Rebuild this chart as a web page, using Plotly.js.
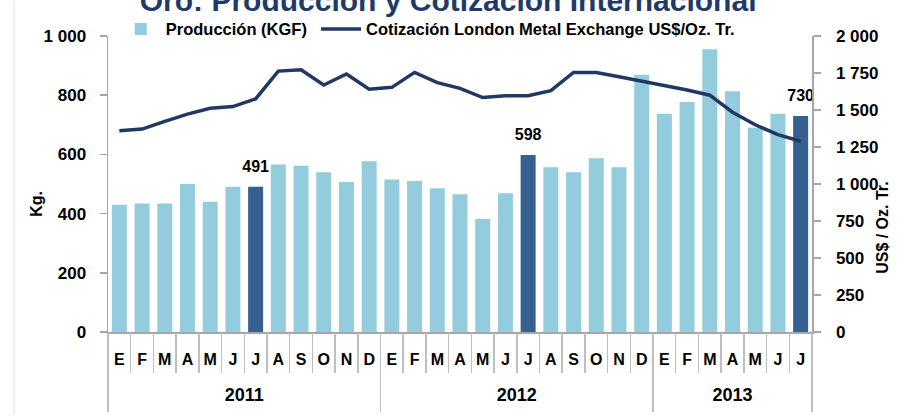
<!DOCTYPE html>
<html><head><meta charset="utf-8">
<script src="https://cdn.plot.ly/plotly-3.0.1.min.js"></script>
<style>html,body{margin:0;padding:0;background:#fff}#chart{width:898px;height:416px}</style>
</head><body><div id="chart"></div>
<script>
const chartTitle = 'Oro: Producción y Cotización Internacional';
const yearLabels = ['2011', '2012', '2013'];
const monthsPerYear = [12, 12, 7];
const monthLabels = ['E', 'F', 'M', 'A', 'M', 'J', 'J', 'A', 'S', 'O', 'N', 'D'];
const highlightMonthIndex = 6; // julio
const production = [430, 434, 434, 500, 440, 491, 491, 566, 562, 540, 507, 577,
                    515, 510, 486, 465, 382, 469, 598, 557, 540, 587, 557, 869,
                    737, 777, 955, 813, 690, 737, 730];
const price = [1360, 1371, 1423, 1472, 1512, 1523, 1575, 1763, 1772, 1669, 1743, 1640,
               1653, 1754, 1685, 1646, 1584, 1597, 1597, 1631, 1754, 1754, 1725, 1695,
               1669, 1635, 1600, 1485, 1400, 1333, 1289];
const seriesNames = ['Producción (KGF)', 'Cotización London Metal Exchange US$/Oz. Tr.'];
const axisTitles = ['Kg.', 'US$ / Oz. Tr.'];

const LIGHT = '#93CDDD', DARK = '#376092', LINE = '#1F3864', AXIS = '#A6A6A6', DIV = '#BFBFBF';
const FONT = 'Liberation Sans, Arial, sans-serif';

// month tick labels per bar, year groups
const monthTicks = [], mIdx = [], yearBounds = [-0.5], yearCenters = [];
let start = 0;
yearLabels.forEach((y, yi) => {
  for (let m = 0; m < monthsPerYear[yi]; m++) {
    monthTicks.push(monthLabels[m]);
    mIdx.push(m);
  }
  const end = start + monthsPerYear[yi];
  yearCenters.push((start + end - 1) / 2);
  yearBounds.push(end - 0.5);
  start = end;
});
const n = production.length;
const idx = production.map((_, i) => i);
const barColors = mIdx.map(m => m === highlightMonthIndex ? DARK : LIGHT);
const labelTexts = production.map((v, i) => mIdx[i] === highlightMonthIndex ? String(v) : '');
const monthBounds = [];
for (let i = 0; i <= n; i++) monthBounds.push(i - 0.5);

const traces = [
  {type: 'bar', x: idx, y: production, name: seriesNames[0],
   marker: {color: barColors}, xaxis: 'x', yaxis: 'y', hoverinfo: 'skip', legend: 'legend'},
  {type: 'scatter', mode: 'lines', x: idx, y: price, name: seriesNames[1],
   line: {color: LINE, width: 3.5}, xaxis: 'x', yaxis: 'y2', hoverinfo: 'skip', legend: 'legend2'},
  {type: 'scatter', mode: 'markers+text', x: idx, y: production, text: labelTexts,
   textposition: 'top center', marker: {size: 16, opacity: 0},
   textfont: {family: FONT, size: 16, color: '#000', weight: 'bold'},
   xaxis: 'x', yaxis: 'y', showlegend: false, hoverinfo: 'skip'},
  {type: 'scatter', mode: 'none', x: [], y: [], xaxis: 'x2', yaxis: 'y', showlegend: false, hoverinfo: 'skip'},
  {type: 'scatter', mode: 'none', x: [], y: [], xaxis: 'x3', yaxis: 'y', showlegend: false, hoverinfo: 'skip'}
];

const legendBase = {orientation: 'h', xanchor: 'left', y: 1.023, yanchor: 'middle',
  bgcolor: 'rgba(0,0,0,0)', font: {family: FONT, size: 16.5, color: '#000', weight: 'bold'},
  itemwidth: 40};

const layout = {
  width: 898, height: 416,
  margin: {l: 108, r: 86, t: 34, b: 84, pad: 0},
  paper_bgcolor: '#fff', plot_bgcolor: '#fff',
  separators: ', ',
  font: {family: FONT, color: '#000'},
  title: {text: chartTitle, x: 0.499, xanchor: 'center', y: 1, yanchor: 'middle', yref: 'container',
          font: {family: FONT, size: 30, color: '#1F3A68', weight: 'bold'}},
  bargap: 0.34,
  showlegend: true,
  legend: Object.assign({}, legendBase, {x: 0.011}),
  legend2: Object.assign({}, legendBase, {x: 0.2955}),
  xaxis: {range: [-0.5, n - 0.5], tickmode: 'array', tickvals: idx, ticktext: monthTicks,
          ticks: '', showline: true, linecolor: AXIS, linewidth: 1.5, zeroline: false,
          showgrid: false, ticklabelstandoff: 12,
          tickfont: {family: FONT, size: 16, color: '#000', weight: 'bold'}},
  xaxis2: {overlaying: 'x', anchor: 'y', side: 'bottom', range: [-0.5, n - 0.5],
           tickmode: 'array', tickvals: monthBounds, ticks: 'outside', ticklen: 40,
           tickcolor: DIV, tickwidth: 1.5,
           minor: {tickmode: 'array', tickvals: yearBounds, ticks: 'outside', ticklen: 79,
                   tickcolor: DIV, tickwidth: 1.5, showgrid: false},
           showticklabels: false, showgrid: false, zeroline: false, showline: false},
  xaxis3: {overlaying: 'x', anchor: 'y', side: 'bottom', range: [-0.5, n - 0.5],
           tickmode: 'array', tickvals: yearCenters, ticktext: yearLabels, ticks: '',
           ticklabelstandoff: 50, showgrid: false, zeroline: false, showline: false,
           tickfont: {family: FONT, size: 18, color: '#000', weight: 'bold'}},
  yaxis: {range: [0, 1000], dtick: 200, tickformat: ',d', ticks: 'outside', ticklen: 7,
          tickcolor: AXIS, tickwidth: 1.5, showline: true, linecolor: AXIS, linewidth: 1.5,
          showgrid: false, zeroline: false, ticklabelstandoff: 10,
          tickfont: {family: FONT, size: 17, color: '#000', weight: 'bold'}},
  yaxis2: {range: [0, 2000], dtick: 250, tickformat: ',d', overlaying: 'y', side: 'right',
           ticks: 'outside', ticklen: 7, tickcolor: AXIS, tickwidth: 1.5, showline: true,
           linecolor: AXIS, linewidth: 1.5, showgrid: false, zeroline: false, ticklabelstandoff: 12,
           tickfont: {family: FONT, size: 17, color: '#000', weight: 'bold'}},
  annotations: [
    {text: axisTitles[0], xref: 'paper', yref: 'paper', x: -0.1009, y: 0.433, textangle: -90,
     showarrow: false, xanchor: 'center', yanchor: 'middle',
     font: {family: FONT, size: 16, color: '#000', weight: 'bold'}},
    {text: axisTitles[1], xref: 'paper', yref: 'paper', x: 1.1009, y: 0.352, textangle: -90,
     showarrow: false, xanchor: 'center', yanchor: 'middle',
     font: {family: FONT, size: 16, color: '#000', weight: 'bold'}}
  ],
  shapes: [
    {type: 'line', xref: 'paper', yref: 'paper', x0: -0.1335, x1: -0.1335, y0: -0.28, y1: 1.12,
     line: {color: '#E3E3E3', width: 1}}
  ]
};

Plotly.newPlot('chart', traces, layout, {staticPlot: true, displayModeBar: false});
</script>
</body></html>
